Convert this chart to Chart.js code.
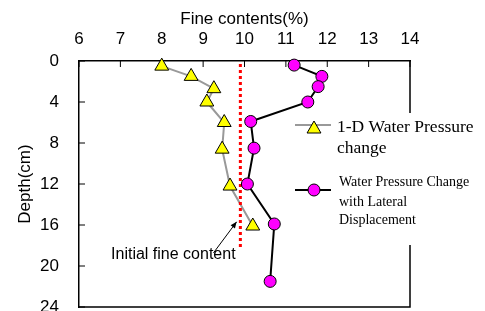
<!DOCTYPE html>
<html>
<head>
<meta charset="utf-8">
<script src="https://cdn.jsdelivr.net/npm/chart.js@4.4.1/dist/chart.umd.min.js"></script>
<style>
  body { margin: 0; background: #fff; }
  #wrap { width: 485px; height: 311px; }
</style>
</head>
<body>
<div id="wrap"><canvas id="myChart" width="485" height="311"></canvas></div>
<script>
// values
const depth1D = [0.5, 1.5, 2.7, 4.0, 6.0, 8.6, 12.2, 16.1];
const fines1D = [8.0, 8.71, 9.26, 9.09, 9.51, 9.46, 9.65, 10.2];
const depthLat = [0.4, 1.5, 2.5, 4.0, 5.9, 8.5, 12.0, 15.9, 21.5];
const finesLat = [11.2, 11.87, 11.78, 11.53, 10.15, 10.23, 10.07, 10.72, 10.62];
const initialFines = [9.9, 9.9];
const initialDepth = [0.3, 18.4];
const xTicks = [6, 7, 8, 9, 10, 11, 12, 13, 14];
const yTicks = [0, 4, 8, 12, 16, 20, 24];

const sans = "'Liberation Sans', Arial, sans-serif";
const serif = "'Liberation Serif', 'Times New Roman', serif";

function pts(xs, ys) {
  return xs.map((v, i) => ({ x: v, y: ys[i] }));
}

// inward tick marks + right/bottom frame
const frame = {
  id: "frame",
  beforeDatasetsDraw(chart) {
    const { ctx, chartArea: a, scales } = chart;
    ctx.save();
    ctx.strokeStyle = "#000";
    ctx.lineWidth = 1.5;
    ctx.beginPath();
    ctx.moveTo(a.right, a.top);
    ctx.lineTo(a.right, a.bottom);
    ctx.lineTo(a.left, a.bottom);
    ctx.stroke();
    ctx.lineWidth = 1;
    ctx.beginPath();
    xTicks.forEach((v) => {
      const px = scales.x.getPixelForValue(v);
      ctx.moveTo(px, a.top);
      ctx.lineTo(px, a.top + 6);
    });
    yTicks.forEach((v) => {
      const py = scales.y.getPixelForValue(v);
      ctx.moveTo(a.left, py);
      ctx.lineTo(a.left + 6, py);
    });
    ctx.stroke();
    ctx.restore();
  },
};

// "Initial fine content" note with arrow
const note = {
  id: "note",
  afterDatasetsDraw(chart) {
    const { ctx, scales } = chart;
    const x = scales.x, y = scales.y;
    ctx.save();
    ctx.fillStyle = "#000";
    ctx.font = "16px " + sans;
    ctx.textAlign = "center";
    ctx.textBaseline = "middle";
    ctx.fillText("Initial fine content", x.getPixelForValue(8.28), y.getPixelForValue(18.9));

    const x0 = x.getPixelForValue(9.25), y0 = y.getPixelForValue(18.72);
    const x1 = x.getPixelForValue(9.81), y1 = y.getPixelForValue(15.69);
    ctx.strokeStyle = "#000";
    ctx.lineWidth = 1;
    ctx.beginPath();
    ctx.moveTo(x0, y0);
    ctx.lineTo(x1, y1);
    ctx.stroke();
    const ang = Math.atan2(y1 - y0, x1 - x0);
    ctx.beginPath();
    ctx.moveTo(x1, y1);
    ctx.lineTo(x1 - 7 * Math.cos(ang - 0.4), y1 - 7 * Math.sin(ang - 0.4));
    ctx.lineTo(x1 - 7 * Math.cos(ang + 0.4), y1 - 7 * Math.sin(ang + 0.4));
    ctx.closePath();
    ctx.fill();
    ctx.restore();
  },
};

// legend box on the right, over the frame
const legendBox = {
  id: "legendBox",
  afterDraw(chart) {
    const { ctx } = chart;
    ctx.save();
    ctx.fillStyle = "#fff";
    ctx.fillRect(290, 113, 195, 132);

    ctx.lineWidth = 2;
    ctx.strokeStyle = "#999999";
    ctx.beginPath();
    ctx.moveTo(295, 125);
    ctx.lineTo(331, 125);
    ctx.stroke();
    ctx.fillStyle = "#ffff00";
    ctx.strokeStyle = "#000";
    ctx.lineWidth = 1;
    Chart.helpers.drawPoint(ctx, { pointStyle: "triangle", radius: 8, borderWidth: 1, rotation: 0 }, 314, 129);

    ctx.lineWidth = 2;
    ctx.strokeStyle = "#000";
    ctx.beginPath();
    ctx.moveTo(295, 190);
    ctx.lineTo(331, 190);
    ctx.stroke();
    ctx.fillStyle = "#ff00ff";
    ctx.lineWidth = 1;
    Chart.helpers.drawPoint(ctx, { pointStyle: "circle", radius: 6, borderWidth: 1, rotation: 0 }, 314, 190);

    ctx.fillStyle = "#000";
    ctx.textAlign = "left";
    ctx.textBaseline = "middle";
    ctx.font = "17.5px " + serif;
    ctx.fillText("1-D Water Pressure", 337, 127);
    ctx.fillText("change", 337, 148);
    ctx.font = "14px " + serif;
    ctx.fillText("Water Pressure Change", 339, 182);
    ctx.fillText("with Lateral", 339, 202);
    ctx.fillText("Displacement", 339, 220);
    ctx.restore();
  },
};

new Chart(document.getElementById("myChart"), {
  type: "scatter",
  data: {
    datasets: [
      {
        label: "Water Pressure Change with Lateral Displacement",
        data: pts(finesLat, depthLat),
        showLine: true,
        borderColor: "#000",
        borderWidth: 2,
        pointStyle: "circle",
        pointRadius: 6,
        pointBackgroundColor: "#ff00ff",
        pointBorderColor: "#000",
        pointBorderWidth: 1,
        clip: false,
      },
      {
        label: "Initial fine content",
        data: pts(initialFines, initialDepth),
        showLine: true,
        borderColor: "#ff0000",
        borderWidth: 3,
        borderDash: [3, 3],
        pointRadius: 0,
        clip: false,
      },
      {
        label: "1-D Water Pressure change",
        data: pts(fines1D, depth1D),
        showLine: true,
        borderColor: "#999999",
        borderWidth: 2,
        pointStyle: "triangle",
        pointRadius: 8,
        pointBackgroundColor: "#ffff00",
        pointBorderColor: "#000",
        pointBorderWidth: 1,
        clip: false,
      },
    ],
  },
  options: {
    responsive: false,
    animation: false,
    layout: { autoPadding: false, padding: { left: 0, top: 0, right: 75, bottom: 4 } },
    plugins: {
      legend: { display: false },
      tooltip: { enabled: false },
    },
    scales: {
      x: {
        type: "linear",
        position: "top",
        min: 6,
        max: 14,
        afterBuildTicks: (s) => { s.ticks = xTicks.map((v) => ({ value: v })); },
        afterFit: (s) => { s.height = 61; s.paddingLeft = 0; s.paddingRight = 0; },
        ticks: { color: "#000", font: { family: sans, size: 17 }, padding: 3, maxRotation: 0 },
        grid: { display: false },
        border: { display: true, color: "#000", width: 1.5 },
        title: {
          display: true,
          text: "Fine contents(%)",
          color: "#000",
          font: { family: sans, size: 17 },
          padding: { top: 9, bottom: 0 },
        },
      },
      y: {
        type: "linear",
        reverse: true,
        min: 0,
        max: 24,
        afterBuildTicks: (s) => { s.ticks = yTicks.map((v) => ({ value: v })); },
        afterFit: (s) => { s.width = 79; s.paddingTop = 0; s.paddingBottom = 0; },
        ticks: { color: "#000", font: { family: sans, size: 17 }, padding: 12 },
        grid: { display: false },
        border: { display: true, color: "#000", width: 1.5 },
        title: {
          display: true,
          text: "Depth(cm)",
          color: "#000",
          font: { family: sans, size: 17 },
          padding: { top: 15, bottom: 0 },
        },
      },
    },
  },
  plugins: [frame, note, legendBox],
});
</script>
</body>
</html>
